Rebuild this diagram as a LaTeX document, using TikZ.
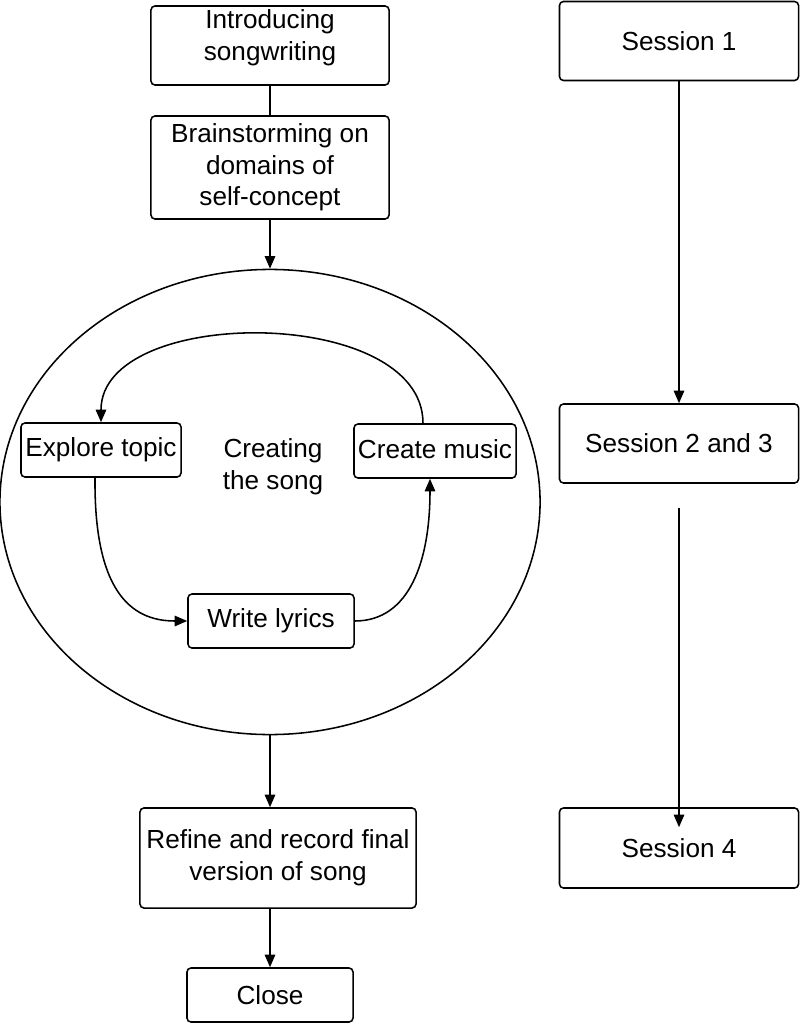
\documentclass[tikz,border=0pt]{standalone}
\usepackage{fontspec}
\setmainfont{Liberation Sans}
\usetikzlibrary{arrows.meta,shapes.geometric}
\tikzset{
	box/.style={draw, rounded corners=0.1cm, line width=1.1pt, align=center, inner sep=0pt,
		font=\fontsize{18.6}{22.5}\selectfont},
	arr/.style={line width=1.1pt, -{Triangle[length=9pt,width=7.5pt]}},
	plain/.style={line width=1.1pt}
}

\begin{document}
\begin{tikzpicture}[x=0.025cm, y=-0.025cm]
		%%%%% START %%%%%
		\useasboundingbox (0, 0) rectangle (800, 1024);
		
		% left column
		\node[box, minimum width=5.95cm, minimum height=1.975cm,
			label={[name=introtext, align=center, font=\fontsize{18.6}{22.5}\selectfont, yshift=0.2cm]center:Introducing\\songwriting}] (intro) at (270, 45.5) {};
		\node[box, minimum width=5.95cm, minimum height=2.575cm] (brain) at (270, 167.5) {Brainstorming on\\domains of\\self-concept};
		\draw[plain] (intro.south) -- (brain.north);
		
		\node[draw, ellipse, line width=1.1pt, minimum width=13.5cm, minimum height=11.625cm] (loop) at (270, 502) {};
		\draw[arr] (brain.south) -- (loop.north);
		
		\node[align=center, font=\fontsize{18.6}{22.5}\selectfont] (song) at (273, 467) {Creating\\the song};
		\node[box, minimum width=4.0cm, minimum height=1.35cm] (explore) at (101, 450) {Explore topic};
		\node[box, minimum width=4.05cm, minimum height=1.35cm] (music) at (435, 451) {\raisebox{0.1cm}{Create music}};
		\node[box, minimum width=4.15cm, minimum height=1.35cm] (lyrics) at (271, 621) {Write lyrics};
		
		\draw[arr] ([xshift=-0.3cm]music.north) .. controls (423, 305) and (101, 305) .. (explore.north);
		\draw[arr] ([xshift=-0.15cm]explore.south) .. controls (94, 590) and (130, 621) .. (lyrics.west);
		\draw[arr] (lyrics.east) .. controls (410, 621) and (430, 560) .. ([xshift=-0.125cm]music.south);
		
		\node[box, minimum width=6.9cm, minimum height=2.5cm] (refine) at (278, 858) {Refine and record final\\version of song};
		\node[box, minimum width=4.15cm, minimum height=1.35cm] (close) at (270, 995) {Close};
		\draw[arr] (loop.south) -- (loop.south |- refine.north);
		\draw[arr] (close.north |- refine.south) -- (close.north);
		
		% right column
		\node[box, minimum width=5.975cm, minimum height=1.975cm] (s1) at (679, 41) {Session 1};
		\node[box, minimum width=5.975cm, minimum height=1.975cm] (s23) at (679, 443.5) {Session 2 and 3};
		\node[box, minimum width=5.975cm, minimum height=2.0cm] (s4) at (679, 848) {Session 4};
		\coordinate (gap) at (679, 508);
		\draw[arr] (s1.south) -- (s23.north);
		\draw[arr, shorten >=-0.5cm] (gap) -- (s4.north);
		
		%%%%% END %%%%%
\end{tikzpicture}
\end{document}
